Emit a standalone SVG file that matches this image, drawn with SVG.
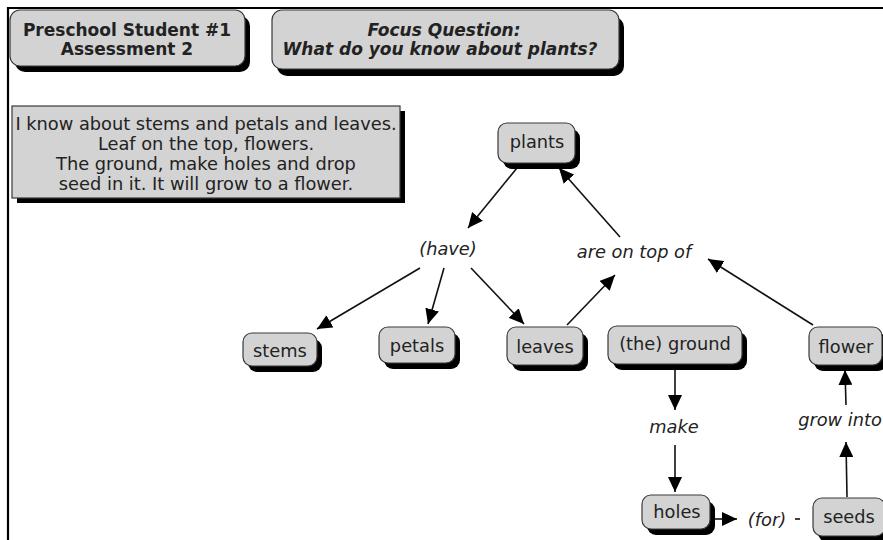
<svg xmlns="http://www.w3.org/2000/svg" width="883" height="540" viewBox="0 0 883 540">
<style>
.bg{fill:#ffffff}
.box{fill:#d3d3d3;stroke:#3a3a3a;stroke-width:1.2}
.sh{fill:#000000}
.t{font-family:"DejaVu Sans","Verdana",sans-serif;font-size:17.8px;fill:#222222;text-anchor:middle}
.b{font-weight:bold;font-size:17px}
.i{font-style:italic}
.c{stroke:#111111;stroke-width:1.6;fill:none;marker-end:url(#ah)}
.s{stroke:#111111;stroke-width:1.6;fill:none}
</style>
<defs>
<marker id="ah" viewBox="0 0 15 14" refX="15" refY="7" markerWidth="15" markerHeight="14" markerUnits="userSpaceOnUse" orient="auto">
<path d="M0,0 L15,7 L0,14 z" fill="#000000"/>
</marker>
</defs>
<rect class="bg" x="0" y="0" width="883" height="540"/>
<path d="M8,540 V8 H883" fill="none" stroke="#000000" stroke-width="2.2"/>

<g id="title">
<rect class="sh" x="15" y="16" width="235" height="56" rx="10"/>
<rect class="box" x="10" y="10" width="235" height="56" rx="10"/>
<text class="t b" x="127" y="36">Preschool Student #1</text>
<text class="t b" x="127" y="55">Assessment 2</text>
</g>

<g id="focus">
<rect class="sh" x="277" y="17" width="347" height="59" rx="10"/>
<rect class="box" x="272" y="10" width="347" height="59" rx="10"/>
<text class="t b i" x="444" y="36">Focus Question:</text>
<text class="t b i" x="440" y="55">What do you know about plants?</text>
</g>

<g id="statement">
<rect class="sh" x="17" y="111" width="388" height="92"/>
<rect class="box" x="12" y="106" width="388" height="92"/>
<text class="t" x="206" y="130">I know about stems and petals and leaves.</text>
<text class="t" x="206" y="150">Leaf on the top, flowers.</text>
<text class="t" x="206" y="170">The ground, make holes and drop</text>
<text class="t" x="206" y="190">seed in it. It will grow to a flower.</text>
</g>

<g id="connectors">
<line class="c" x1="517" y1="168" x2="468" y2="228"/>
<line class="c" x1="420" y1="268" x2="317" y2="329"/>
<line class="c" x1="444" y1="268" x2="428" y2="324"/>
<line class="c" x1="471" y1="268" x2="524" y2="324"/>
<line class="c" x1="567" y1="325" x2="615" y2="275"/>
<line class="c" x1="620" y1="237" x2="559" y2="168"/>
<line class="c" x1="813" y1="325" x2="708" y2="259"/>
<line class="c" x1="675" y1="370" x2="675" y2="410"/>
<line class="c" x1="675" y1="445" x2="675" y2="492"/>
<line class="c" x1="713" y1="519" x2="737" y2="519"/>
<line class="s" x1="795" y1="519" x2="800" y2="519"/>
<line class="c" x1="847" y1="497" x2="846" y2="442"/>
<line class="c" x1="846" y1="405" x2="845" y2="370"/>
</g>

<g id="plants">
<rect class="sh" x="503" y="129" width="77" height="40" rx="9"/>
<rect class="box" x="498" y="123" width="77" height="40" rx="9"/>
<text class="t" x="537" y="148">plants</text>
</g>

<g id="have">
<text class="t i" x="448" y="255">(have)</text>
</g>

<g id="areontopof">
<text class="t i" x="634" y="258">are on top of</text>
</g>

<g id="stems">
<rect class="sh" x="248" y="339" width="74" height="33" rx="9"/>
<rect class="box" x="243" y="333" width="74" height="33" rx="9"/>
<text class="t" x="280" y="357">stems</text>
</g>

<g id="petals">
<rect class="sh" x="384" y="333" width="76" height="36" rx="9"/>
<rect class="box" x="379" y="327" width="76" height="36" rx="9"/>
<text class="t" x="417" y="352">petals</text>
</g>

<g id="leaves">
<rect class="sh" x="512" y="333" width="76" height="38" rx="9"/>
<rect class="box" x="507" y="327" width="76" height="38" rx="9"/>
<text class="t" x="545" y="353">leaves</text>
</g>

<g id="ground">
<rect class="sh" x="613" y="332" width="134" height="38" rx="9"/>
<rect class="box" x="608" y="326" width="134" height="38" rx="9"/>
<text class="t" x="675" y="350">(the) ground</text>
</g>

<g id="flower">
<rect class="sh" x="814" y="333" width="73" height="38" rx="9"/>
<rect class="box" x="809" y="327" width="73" height="38" rx="9"/>
<text class="t" x="846" y="353">flower</text>
</g>

<g id="make">
<text class="t i" x="674" y="433">make</text>
</g>

<g id="growinto">
<text class="t i" x="840" y="426">grow into</text>
</g>

<g id="holes">
<rect class="sh" x="647" y="501" width="68" height="34" rx="9"/>
<rect class="box" x="642" y="495" width="68" height="34" rx="9"/>
<text class="t" x="677" y="518">holes</text>
</g>

<g id="for">
<text class="t i" x="767" y="526">(for)</text>
</g>

<g id="seeds">
<rect class="sh" x="818" y="504" width="72" height="38" rx="9"/>
<rect class="box" x="813" y="498" width="72" height="38" rx="9"/>
<text class="t" x="849" y="523">seeds</text>
</g>
</svg>
